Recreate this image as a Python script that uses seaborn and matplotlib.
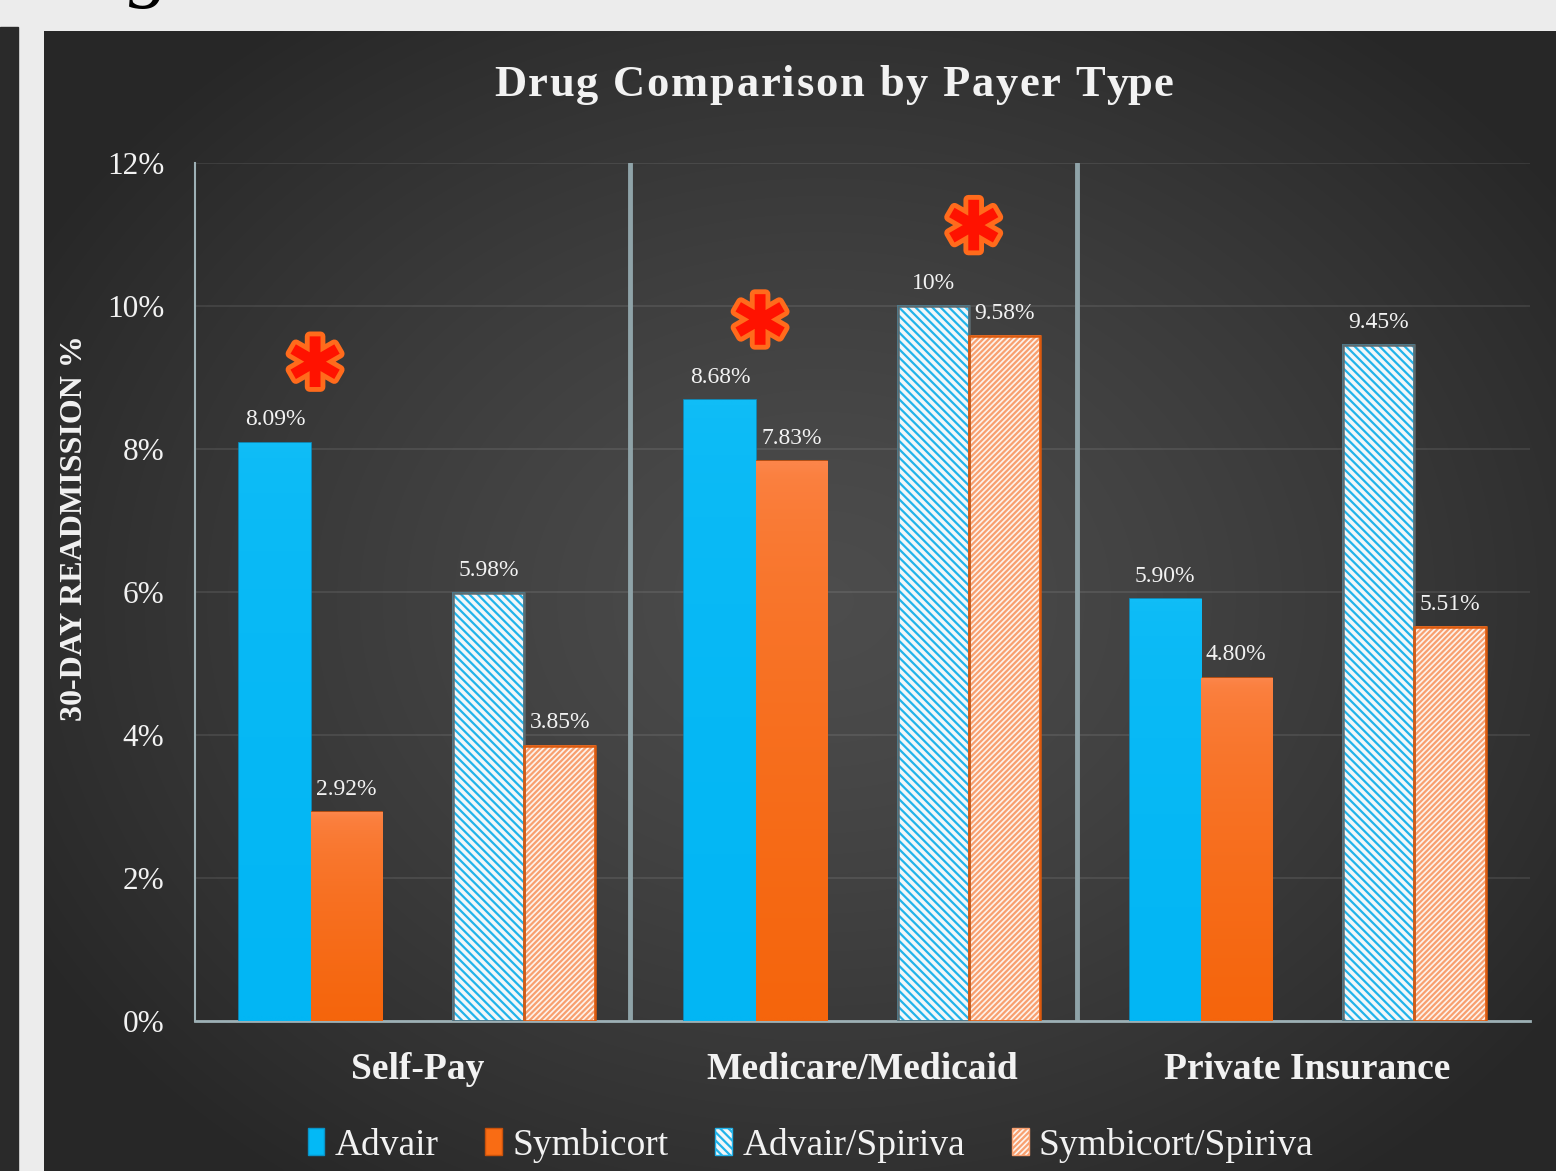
import numpy as np
import pandas as pd
import seaborn as sns
import matplotlib.pyplot as plt
from matplotlib import patheffects as pe
from matplotlib.patches import Patch, Rectangle
from matplotlib.colors import to_rgb
from matplotlib.ticker import FuncFormatter

# ---- data ----
payers = ["Self-Pay", "Medicare/Medicaid", "Private Insurance"]
drugs = ["Advair", "Symbicort", "Advair/Spiriva", "Symbicort/Spiriva"]
advair = [8.09, 8.68, 5.90]
symbicort = [2.92, 7.83, 4.80]
advair_spiriva = [5.98, 10.00, 9.45]
symbicort_spiriva = [3.85, 9.58, 5.51]
# significant differences (payer, pair) marked with an asterisk
sig_marks = [("Self-Pay", "single"), ("Medicare/Medicaid", "single"),
             ("Medicare/Medicaid", "combo")]

GAP = "_gap"
hue_order = ["Advair", "Symbicort", GAP, "Advair/Spiriva", "Symbicort/Spiriva"]

rows = []
for name, vals in zip(drugs, [advair, symbicort, advair_spiriva, symbicort_spiriva]):
    for p, v in zip(payers, vals):
        rows.append({"Payer": p, "Drug": name, "Rate": v})
for p in payers:
    rows.append({"Payer": p, "Drug": GAP, "Rate": 0.0})
df = pd.DataFrame(rows)

CYAN = "#03b9f6"
ORANGE = "#f96c14"
AXIS_C = "#9db0b5"
TXT = "#f2f2f2"
SERIF = ["Liberation Serif", "DejaVu Serif"]

sns.set_style("dark")
plt.rcParams["font.family"] = SERIF
plt.rcParams["hatch.linewidth"] = 1.6

fig = plt.figure(figsize=(15.56, 11.71), dpi=100, facecolor="#ececec")

# background panel with radial gradient
bg = fig.add_axes([0, 0, 1, 1], zorder=-10)
bg.set_xlim(0, 1556)
bg.set_ylim(1171, 0)
bg.axis("off")
bg.add_patch(Rectangle((0, 27), 18, 1144, color="#2a2a2a"))
yy, xx = np.mgrid[31:1171:2, 44:1556:2]
r = np.sqrt(((xx - 820) / 900.0) ** 2 + ((yy - 600) / 720.0) ** 2)
shade = 0.30 - 0.145 * np.clip(r, 0, 1) ** 1.3
bg.imshow(np.dstack([shade] * 3), extent=(44, 1556, 1171, 31), aspect="auto",
          interpolation="bilinear")
fig.text(0.083, 1.008, "g", fontsize=60, style="italic", color="black",
         va="baseline", ha="left")

ax = fig.add_axes([0.1253, 0.1281, 0.858, 0.7327])
ax.set_facecolor("none")

palette = {"Advair": CYAN, "Symbicort": ORANGE, GAP: "none",
           "Advair/Spiriva": "#f3f7f9", "Symbicort/Spiriva": "#fdf3ec"}
sns.barplot(data=df, x="Payer", y="Rate", hue="Drug", order=payers,
            hue_order=hue_order, palette=palette, errorbar=None,
            saturation=1, legend=False, ax=ax, zorder=3)

styles = {
    "Advair": dict(edgecolor="#0a94c8", hatch=None, border=None,
                   grad=("#10bdf7", "#02b6f4")),
    "Symbicort": dict(edgecolor="#c9520c", hatch=None, border=None,
                      grad=("#fc8549", "#f5650c")),
    "Advair/Spiriva": dict(edgecolor="#22b3ea", hatch="\\\\\\\\", border="#5d6b70",
                           grad=None),
    "Symbicort/Spiriva": dict(edgecolor="#f8a070", hatch="//////", border="#dc5a0e",
                              grad=None),
}


def vgrad(top, bottom, n=64):
    t = np.sqrt(np.linspace(0, 1, n))[:, None, None]
    return (1 - t) * np.array(to_rgb(top)) + t * np.array(to_rgb(bottom))


for name, cont in zip(hue_order, ax.containers):
    if name == GAP:
        for b in cont:
            b.set_visible(False)
        continue
    st = styles[name]
    for b in cont:
        b.set_edgecolor(st["edgecolor"])
        b.set_linewidth(1.2)
        if st["hatch"]:
            b.set_hatch(st["hatch"])
        x0, w, h = b.get_x(), b.get_width(), b.get_height()
        if st["grad"]:
            im = ax.imshow(vgrad(*st["grad"]), extent=(x0, x0 + w, 0, h),
                           aspect="auto", zorder=3.1, interpolation="bilinear")
            im.set_clip_path(b)
        if st["border"]:
            ax.add_patch(Rectangle((x0, 0), w, h, fill=False, lw=1.8,
                                   edgecolor=st["border"], zorder=3.2))
    labels = [f"{v:.0f}%" if float(v).is_integer() else f"{v:.2f}%"
              for v in cont.datavalues]
    ax.bar_label(cont, labels=labels, padding=9, color=TXT, fontsize=17)

# asterisks above significant pairs
cmap = dict(zip(hue_order, ax.containers))
for payer, pair in sig_marks:
    i = payers.index(payer)
    a, b = ("Advair", "Symbicort") if pair == "single" else ("Advair/Spiriva", "Symbicort/Spiriva")
    pa, pb = cmap[a][i], cmap[b][i]
    x = (pa.get_x() + pa.get_width() + pb.get_x()) / 2 + 0.01
    y = max(pa.get_height(), pb.get_height()) + 1.05
    ax.text(x, y, "\u2731", fontsize=50, color="#ff1200", ha="center", va="center",
            family="DejaVu Sans", zorder=5,
            path_effects=[pe.withStroke(linewidth=7, foreground="#ff6b1c")])

ax.set_xlim(-0.5, 2.5)
ax.set_ylim(0, 12)
ax.set_yticks(np.arange(0, 13, 2))
ax.yaxis.set_major_formatter(FuncFormatter(lambda v, _: f"{v:.0f}%"))
ax.grid(axis="y", color="white", alpha=0.1, lw=1.2, zorder=0)
ax.grid(axis="x", visible=False)
# group separators (drawn slightly left of the category boundary, as in the source)
for v in (0.478, 1.482):
    ax.axvline(v, color="#8fa3a8", lw=3.5, zorder=2)

for s in ("top", "right"):
    ax.spines[s].set_visible(False)
ax.spines["left"].set_color(AXIS_C)
ax.spines["left"].set_linewidth(1.5)
ax.spines["bottom"].set_color(AXIS_C)
ax.spines["bottom"].set_linewidth(2)
ax.tick_params(axis="y", direction="out", length=6, width=1.5, color=AXIS_C,
               labelcolor=TXT, labelsize=22.5, pad=16)
ax.tick_params(axis="x", length=0, labelcolor=TXT, labelsize=27, pad=22)
for t in ax.get_xticklabels():
    t.set_fontweight("bold")

ax.set_xlabel("")
ax.set_ylabel("30-DAY READMISSION %", color=TXT, fontsize=23, fontweight="bold")
ax.yaxis.set_label_coords(-0.079, 0.575)

# title with letter spacing
title = "Drug Comparison by Payer Type"
tkw = dict(color=TXT, fontsize=32, fontweight="bold", va="center", ha="left")
rend = fig.canvas.get_renderer()


def text_w(s):
    t = fig.text(0, 0, s, **tkw)
    w = t.get_window_extent(rend).width
    t.remove()
    return w


spacing = 1.8
full = text_w(title) + spacing * (len(title) - 1)
x_start = 833 - full / 2
for i, ch in enumerate(title):
    if ch == " ":
        continue
    xo = x_start + (text_w(title[:i].replace(" ", "\u00a0")) if i else 0) + spacing * i
    fig.text(xo / 1556, 0.927, ch, **tkw)

handles = [Patch(facecolor=CYAN, edgecolor="#0a94c8"),
           Patch(facecolor=ORANGE, edgecolor="#c9520c"),
           Patch(facecolor="#f3f7f9", edgecolor="#22b3ea", hatch="\\\\\\\\"),
           Patch(facecolor="#fdf3ec", edgecolor="#f8a070", hatch="//////")]
fig.legend(handles, drugs, loc="center", bbox_to_anchor=(0.521, 0.022), ncol=4,
           frameon=False, fontsize=27, labelcolor=TXT, handlelength=0.45,
           handleheight=0.75, handletextpad=0.27, columnspacing=1.25)

fig.savefig("out.png", dpi=100, facecolor=fig.get_facecolor())
